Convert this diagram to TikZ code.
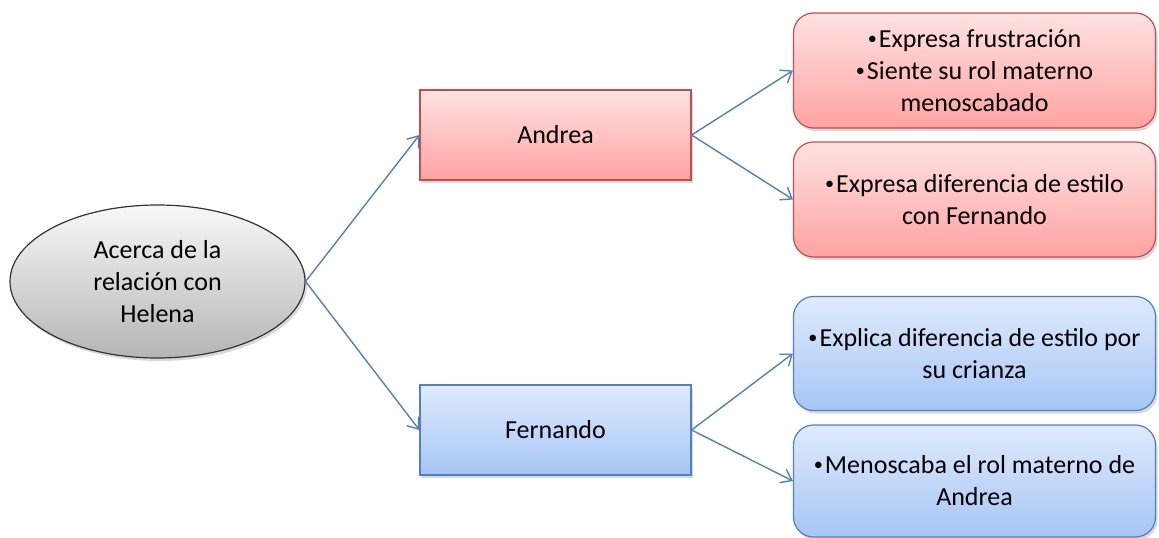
\documentclass[tikz,border=0pt]{standalone}
\usepackage{fontspec}
\setmainfont{Carlito}
\usetikzlibrary{shapes.geometric,shadows,arrows.meta}
\definecolor{redline}{HTML}{C0504D}
\definecolor{redtop}{HTML}{FFE2E2}
\definecolor{redbot}{HTML}{FFA2A2}
\definecolor{bluetop}{HTML}{DFEAFC}
\definecolor{bluebot}{HTML}{A6C6F5}
\definecolor{blueline}{HTML}{4F81BD}
\definecolor{graytop}{HTML}{F8F8F8}
\definecolor{graybot}{HTML}{B5B5B5}
\newcommand{\bul}{\raisebox{0.12em}{\scalebox{0.7}{•}}\hspace{0.08em}}
\tikzset{
  base/.style={inner sep=0pt, align=center, font=\fontsize{26}{32}\selectfont,
    drop shadow={opacity=0.3, shadow xshift=2pt, shadow yshift=-3pt}},
  rootnode/.style={base, ellipse, draw=black!80, line width=1.2pt,
    top color=graytop, bottom color=graybot, minimum width=295pt, minimum height=153pt},
  redmid/.style={base, rectangle, draw=redline, line width=1.2pt,
    top color=redtop, bottom color=redbot, minimum width=271pt, minimum height=90pt},
  bluemid/.style={base, rectangle, draw=blueline, line width=1.2pt,
    top color=bluetop, bottom color=bluebot, minimum width=271pt, minimum height=90pt},
  redleaf/.style={base, rectangle, rounded corners=20pt, draw=redline, line width=1.2pt,
    top color=redtop, bottom color=redbot, minimum width=362pt},
  blueleaf/.style={base, rectangle, rounded corners=20pt, draw=blueline, line width=1.2pt,
    top color=bluetop, bottom color=bluebot, minimum width=362pt},
  link/.style={draw=blueline, line width=1.4pt, -{Straight Barb[length=10pt,width=15pt]}}
}
\begin{document}
\begin{tikzpicture}[x=1pt,y=-1pt]
\useasboundingbox (0,0) rectangle (1159,538);
\node[rootnode] (root) at (157.5,281.5) {Acerca de la\\relación con\\Helena};
\node[redmid] (andrea) at (555.5,135) {Andrea};
\node[bluemid] (fernando) at (555.5,430) {Fernando};
\node[redleaf, minimum height=115pt] (a1) at (974.5,70.5) {\bul Expresa frustración\\\bul Siente su rol materno\\menoscabado};
\node[redleaf, minimum height=115pt] (a2) at (974.5,199.5) {\bul Expresa diferencia de estilo\\con Fernando};
\node[blueleaf, minimum height=114pt] (f1) at (974.5,353.5) {\bul Explica diferencia de estilo por\\su crianza};
\node[blueleaf, minimum height=112pt] (f2) at (974.5,481) {\bul Menoscaba el rol materno de\\Andrea};
\draw[link] (root.east) -- (andrea.west);
\draw[link] (root.east) -- (fernando.west);
\draw[link] (andrea.east) -- (a1.west);
\draw[link] (andrea.east) -- (a2.west);
\draw[link] (fernando.east) -- (f1.west);
\draw[link] (fernando.east) -- (f2.west);
\end{tikzpicture}
\end{document}
